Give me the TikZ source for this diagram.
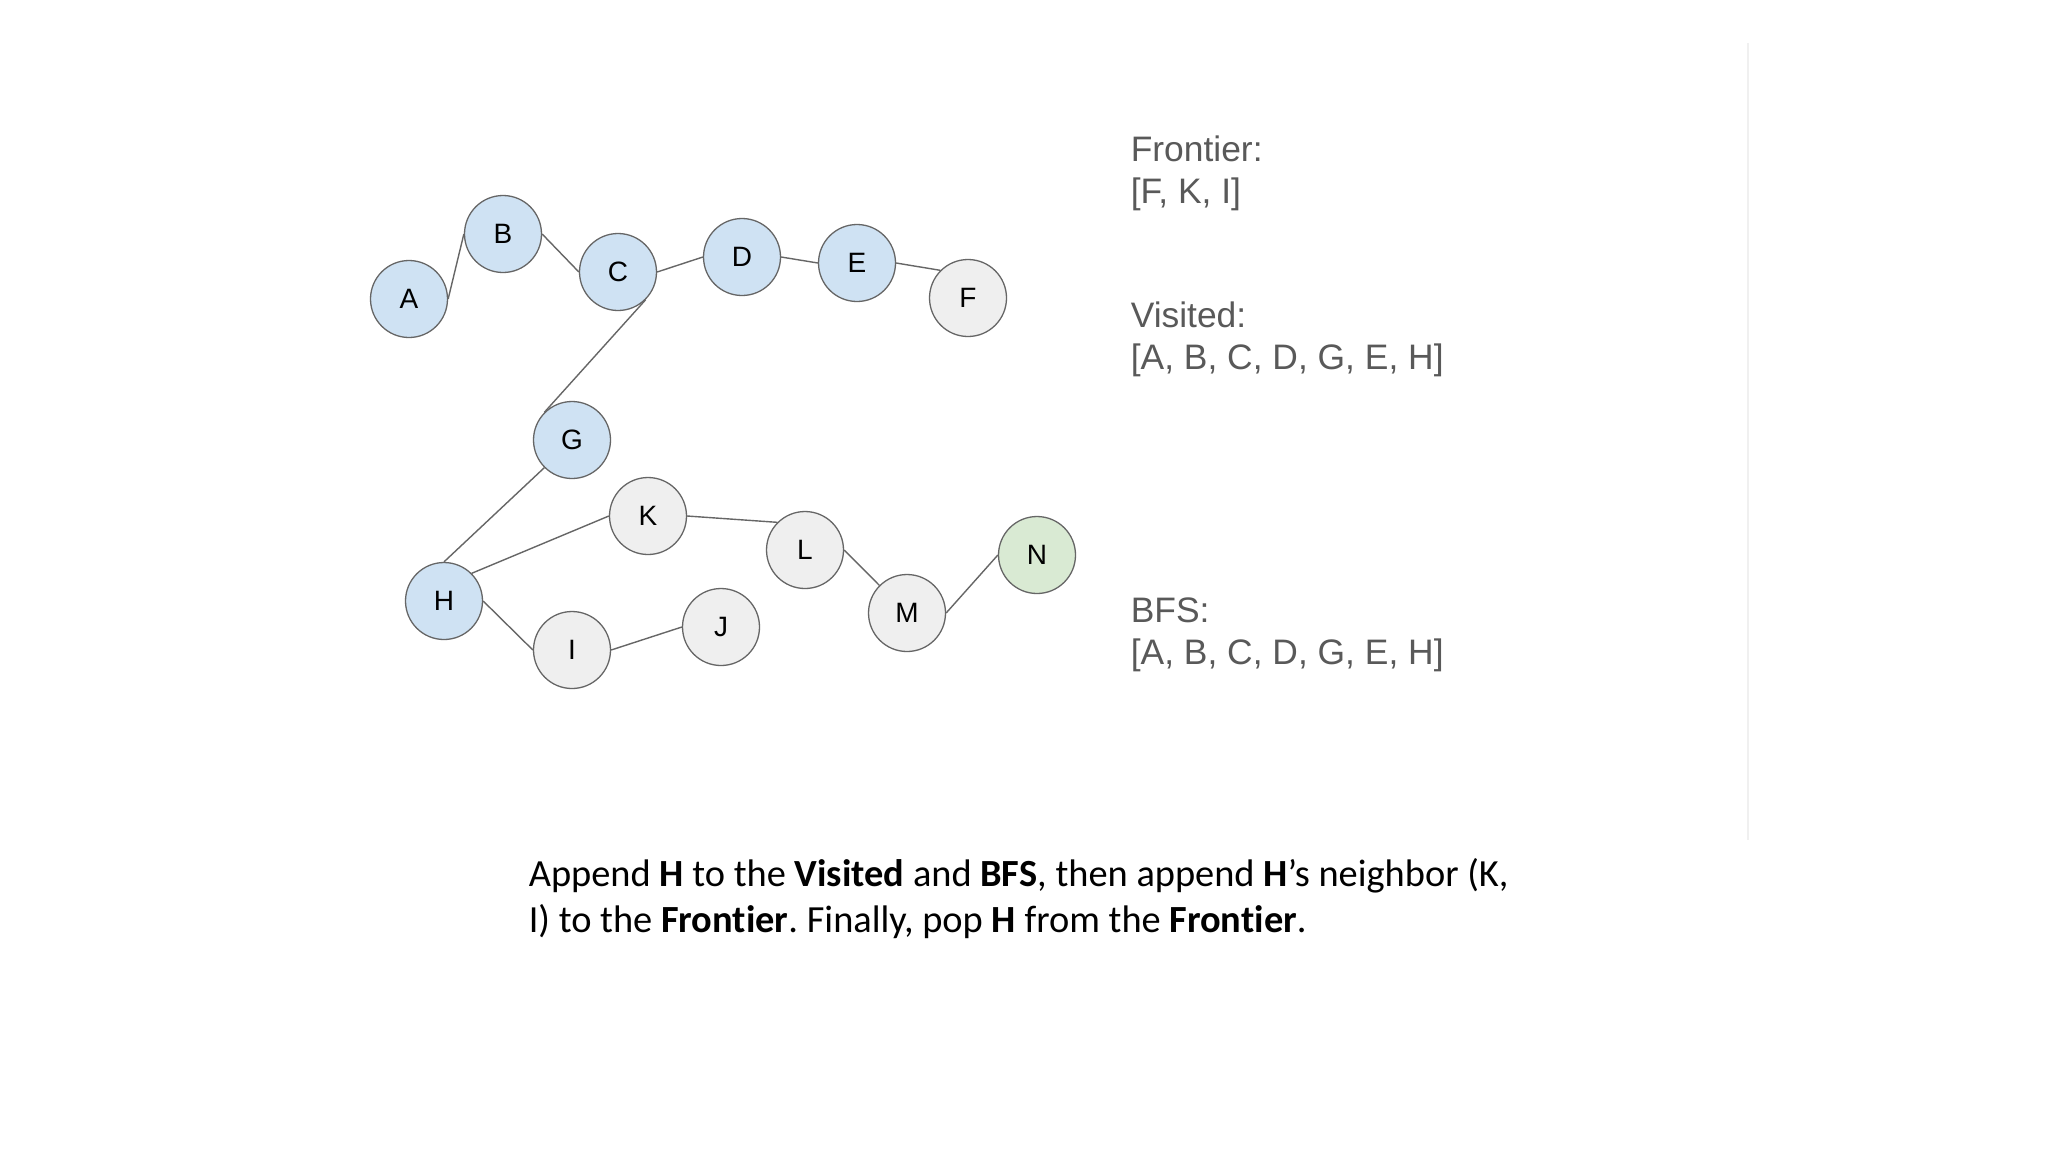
\documentclass[tikz,border=0pt]{standalone}
\usepackage{fontspec}
\setmainfont{Carlito}[Ligatures=NoCommon]
\newfontfamily\arial{Liberation Sans}
\usetikzlibrary{positioning}

\definecolor{seen}{HTML}{CFE2F3}
\definecolor{unseen}{HTML}{EFEFEF}
\definecolor{goal}{HTML}{D9EAD3}
\definecolor{rim}{HTML}{666666}
\definecolor{listtext}{HTML}{595959}

\begin{document}
\frenchspacing
\begin{tikzpicture}[x=0.5pt, y=-0.5pt,
      main/.style = {draw=rim, circle, line width=0.65pt, inner sep=0pt,
        minimum size=38.5pt, font=\arial\fontsize{14}{16}\selectfont},
      visited/.style = {main, fill=seen},
      open/.style = {main, fill=unseen},
      target/.style = {main, fill=goal},
      link/.style = {draw=rim, line width=0.7pt},
      listing/.style = {anchor=base west, inner sep=0pt, text=listtext,
        font=\arial\fontsize{17.7}{21}\selectfont},
      thick]
      \useasboundingbox[fill=white] (0,0) rectangle (2048,1152);
      \draw[line width=1pt, black!6] (1748,43) -- (1748,840);

      \node[visited] (a) at (409,299) {A};
      \node[visited] (b) at (503,234) {B};
      \node[visited] (c) at (618,272) {C};
      \node[visited] (d) at (742,257) {D};
      \node[visited] (e) at (857,263) {E};
      \node[open] (f) at (968,298) {F};
      \node[visited] (g) at (572,440) {G};
      \node[visited] (h) at (444,601) {H};
      \node[open] (i) at (572,650) {I};
      \node[open] (j) at (721,627) {J};
      \node[open] (k) at (648,516) {K};
      \node[open] (l) at (805,550) {L};
      \node[open] (m) at (907,613) {M};
      \node[target] (n) at (1037,555) {N};

      \draw[link] (a.east) -- (b.west);
      \draw[link] (b.east) -- (c.west);
      \draw[link] (c.east) -- (d.west);
      \draw[link] (d.east) -- (e.west);
      \draw[link] (e.east) -- (f.north west);
      \draw[link] (c.south east) -- (g.north west);
      \draw[link] (g.south west) -- (h.north);
      \draw[link] (h.north east) -- (k.west);
      \draw[link] (h.east) -- (i.west);
      \draw[link] (i.east) -- (j.west);
      \draw[link] (k.east) -- (l.north west);
      \draw[link] (l.east) -- (m.north west);
      \draw[link] (m.east) -- (n.west);

      \node[listing] (frontier) at (1130,161) {Frontier:};
      \node[listing] (frontierlist) at (1130,203) {[F, K, I]};
      \node[listing] (visitedhead) at (1130,327) {Visited:};
      \node[listing] (visitedlist) at (1130,369) {[A, B, C, D, G, E, H]};
      \node[listing] (bfs) at (1130,622) {BFS:};
      \node[listing] (bfslist) at (1130,664) {[A, B, C, D, G, E, H]};

      \node[anchor=base west, inner sep=0pt, align=left,
        font=\fontsize{19.2}{23}\selectfont] (caption) at (528,932)
        {Append \textbf{H} to the \textbf{Visited} and \textbf{BFS}, then append \textbf{H}’s neighbor (K,\\
         I) to the \textbf{Frontier}. Finally, pop \textbf{H} from the \textbf{Frontier}.};
    \end{tikzpicture}
\end{document}
